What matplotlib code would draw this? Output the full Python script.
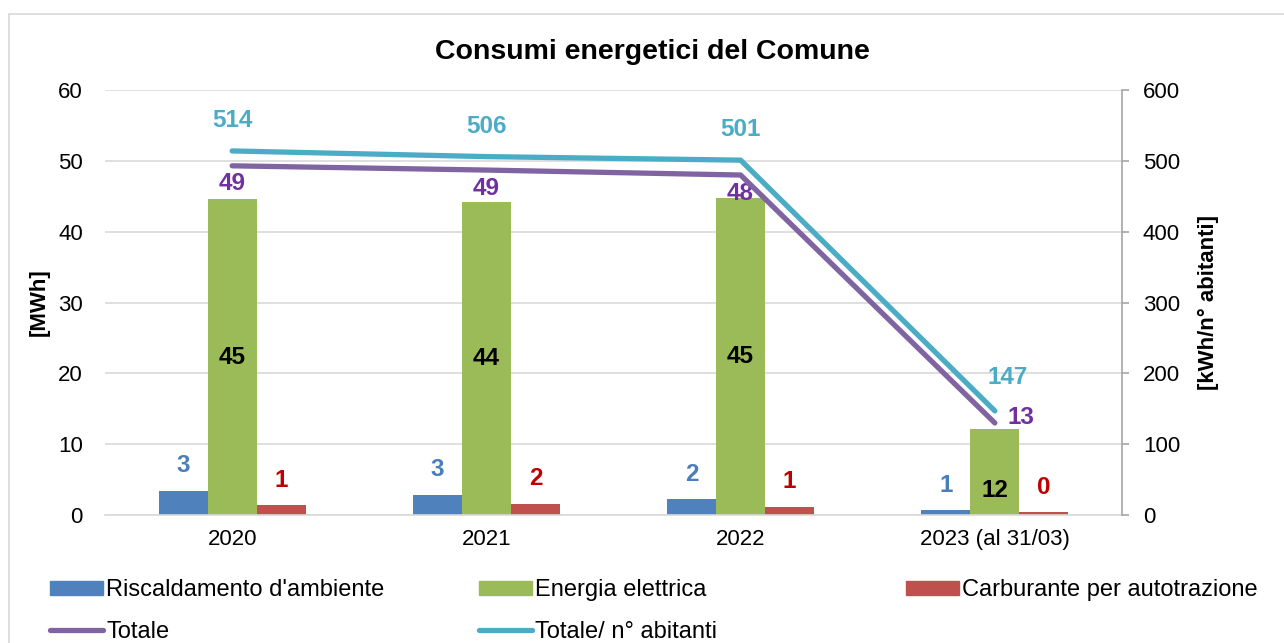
import matplotlib.pyplot as plt
import numpy as np
from matplotlib.patches import Rectangle
from matplotlib.lines import Line2D

plt.rcParams['font.family'] = ['Liberation Sans', 'DejaVu Sans']

# Data
anni = ["2020", "2021", "2022", "2023 (al 31/03)"]
riscaldamento = [3.4, 2.9, 2.2, 0.7]
energia = [44.6, 44.2, 44.7, 12.1]
carburante = [1.4, 1.6, 1.2, 0.4]
totale = [49.3, 48.7, 48.0, 13.0]
totale_abitanti = [514, 506, 501, 147]

c_blu = "#4F81BD"
c_verde = "#9BBB59"
c_rosso = "#C0504D"
c_viola = "#8064A2"
c_ciano = "#4BACC6"

fig = plt.figure(figsize=(12.84, 6.43), dpi=100)
ax = fig.add_axes([0.0818, 0.199, 0.7920, 0.661])
ax2 = ax.twinx()

# chart border
fig.patches.append(Rectangle((9 / 1284, -0.1), 1.2, 1 - 14 / 643 + 0.1, transform=fig.transFigure,
                             fill=False, edgecolor="#D9D9D9", lw=1.2))

x = np.arange(len(anni))
w = 0.193
ax.bar(x - w, riscaldamento, w, color=c_blu, zorder=2)
ax.bar(x, energia, w, color=c_verde, zorder=2)
ax.bar(x + w, carburante, w, color=c_rosso, zorder=2)

ax.set_xlim(-0.5, 3.5)
ax.set_ylim(0, 60)
ax.set_yticks(range(0, 61, 10))
ax.grid(axis="y", color="#D9D9D9", lw=1.2, zorder=0)
ax.set_axisbelow(True)
for s in ["left", "top", "right"]:
    ax.spines[s].set_visible(False)
ax.spines["bottom"].set_color("#D9D9D9")
ax.spines["bottom"].set_linewidth(1.2)
ax.tick_params(axis="y", length=0, pad=16, labelsize=16)
ax.tick_params(axis="x", length=0, pad=10, labelsize=16)
ax.set_xticks(x)
ax.set_xticklabels(anni)
ax.set_ylabel("[MWh]", fontsize=16, fontweight="bold", labelpad=6)

ax2.set_ylim(0, 600)
ax2.set_yticks(range(0, 601, 100))
for s in ["left", "top", "bottom"]:
    ax2.spines[s].set_visible(False)
ax2.spines["right"].set_color("#A6A6A6")
ax2.spines["right"].set_linewidth(1.2)
ax2.tick_params(axis="y", length=5, width=1.2, color="#A6A6A6", pad=10, labelsize=16)
ax2.set_ylabel("[kWh/n° abitanti]", fontsize=16, fontweight="bold", rotation=90, labelpad=13)

# lines drawn on ax2 (scale x10) so they sit above bars
ax2.plot(x, np.array(totale) * 10, color=c_viola, lw=3.8, solid_capstyle="round", zorder=3)
ax2.plot(x, totale_abitanti, color=c_ciano, lw=3.8, solid_capstyle="round", zorder=3)

# data labels
lab = dict(fontsize=17.5, fontweight="bold", ha="center", va="center")
for i in range(len(anni)):
    ax.annotate(f"{riscaldamento[i]:.0f}", (x[i] - w, riscaldamento[i]), xytext=(0, 18),
                textcoords="offset points", color="#4A7EBB", **lab)
    ax.annotate(f"{carburante[i]:.0f}", (x[i] + w, carburante[i]), xytext=(0, 18),
                textcoords="offset points", color="#C00000", **lab)
    dy = -13 if i == 3 else 0
    ax.annotate(f"{energia[i]:.0f}", (x[i], energia[i] / 2), xytext=(0, dy),
                textcoords="offset points", color="black", **lab)
    if i < 3:
        ax.annotate(f"{totale[i]:.0f}", (x[i], totale[i]), xytext=(0, -13),
                    textcoords="offset points", color="#7030A0", **lab)
        ax2.annotate(f"{totale_abitanti[i]}", (x[i], totale_abitanti[i]), xytext=(0, 22),
                     textcoords="offset points", color=c_ciano, **lab)
    else:
        ax.annotate(f"{totale[i]:.0f}", (x[i], totale[i]), xytext=(19, 3.6),
                    textcoords="offset points", color="#7030A0", **lab)
        ax2.annotate(f"{totale_abitanti[i]}", (x[i], totale_abitanti[i]), xytext=(9, 24),
                     textcoords="offset points", color=c_ciano, **lab)

fig.text(0.508, 0.919, "Consumi energetici del Comune", fontsize=20.5, fontweight="bold",
         ha="center", va="center")

# legend, three separate columns
h_risc = Rectangle((0, 0), 1, 1, color=c_blu)
h_ene = Rectangle((0, 0), 1, 1, color=c_verde)
h_carb = Rectangle((0, 0), 1, 1, color=c_rosso)
h_tot = Line2D([], [], color=c_viola, lw=3.8, solid_capstyle="round")
h_ab = Line2D([], [], color=c_ciano, lw=3.8, solid_capstyle="round")
leg_kw = dict(loc="upper left", frameon=False, fontsize=17, handlelength=2.25,
              handleheight=0.55, handletextpad=0.13, labelspacing=0.84, borderpad=0,
              borderaxespad=0)
for handles, labels, xpos in [
    ([h_risc, h_tot], ["Riscaldamento d'ambiente", "Totale"], 50),
    ([h_ene, h_ab], ["Energia elettrica", "Totale/ n° abitanti"], 479),
    ([h_carb], ["Carburante per autotrazione"], 906),
]:
    fig.legend(handles, labels, bbox_to_anchor=(xpos / 1284, 1 - 579 / 643), **leg_kw)

fig.savefig("out.png", dpi=100)
